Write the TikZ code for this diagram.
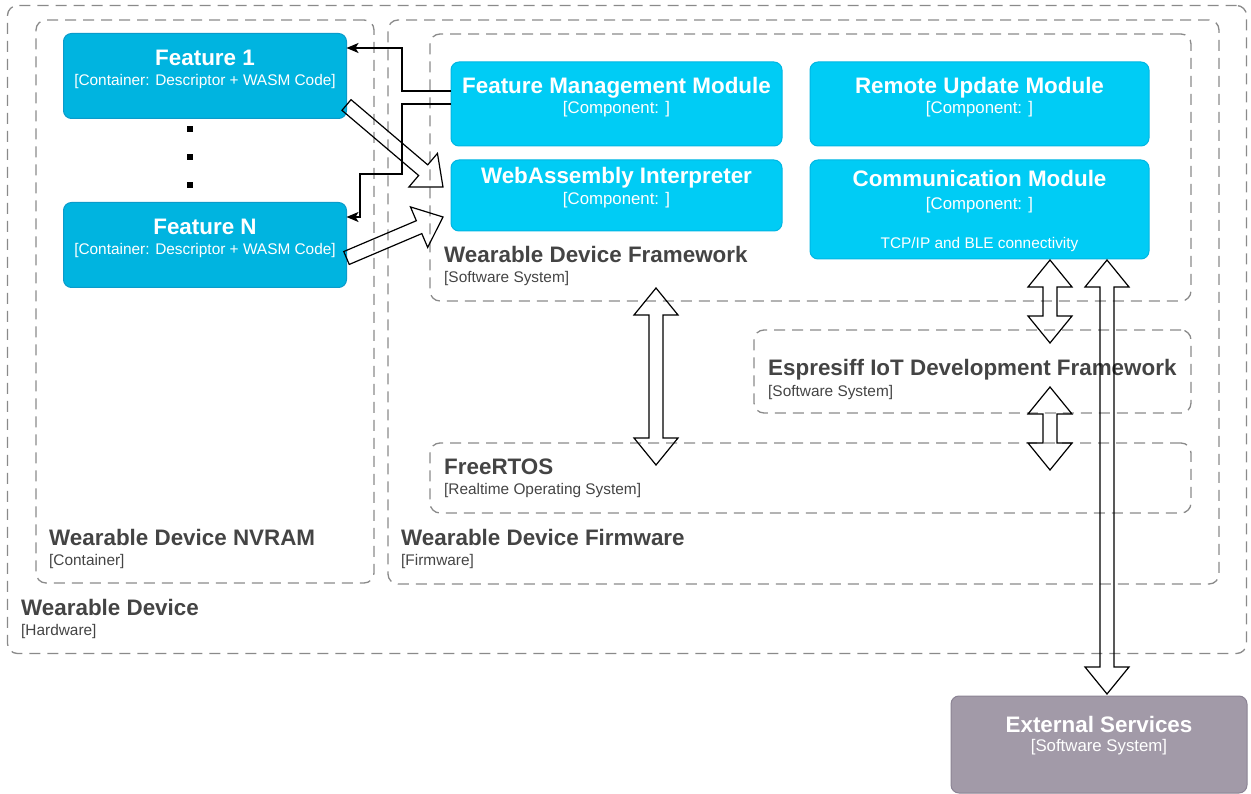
\documentclass[tikz,border=0pt]{standalone}
\usepackage{fontspec}
\setmainfont{Liberation Sans}
\usetikzlibrary{calc,arrows.meta}

\definecolor{featfill}{HTML}{00B4E0}
\definecolor{featline}{HTML}{0A9BCB}
\definecolor{compfill}{HTML}{00CCF5}
\definecolor{compline}{HTML}{00B6E3}
\definecolor{extfill}{HTML}{A29AA8}
\definecolor{extline}{HTML}{8B8394}
\definecolor{bnd}{HTML}{8A8A8A}
\definecolor{bndtext}{HTML}{444444}

\newcommand{\ttlfont}{\fontsize{22.4}{26}\selectfont\bfseries}
\newcommand{\techfont}{\fontsize{16.8}{20}\selectfont}
\newcommand{\smallfont}{\fontsize{15.4}{18}\selectfont}

% hollow block arrow from tail #1 to tip #2
\newcommand{\flexsingle}[2]{%
  \coordinate (hb) at ($(#2)!26pt!(#1)$);
  \draw[flexline] ($(#1)!7pt!90:(#2)$) -- ($(hb)!7pt!90:(#2)$) -- ($(hb)!22pt!90:(#2)$)
    -- (#2) -- ($(hb)!22pt!-90:(#2)$) -- ($(hb)!7pt!-90:(#2)$) -- ($(#1)!7pt!-90:(#2)$) -- cycle;}
% hollow block arrow with heads at both tips #1 and #2
\newcommand{\flexdouble}[2]{%
  \coordinate (ha) at ($(#1)!27pt!(#2)$);
  \coordinate (hb) at ($(#2)!27pt!(#1)$);
  \draw[flexline] (#1) -- ($(ha)!22pt!90:(#2)$) -- ($(ha)!7pt!90:(#2)$) -- ($(hb)!7pt!90:(#2)$)
    -- ($(hb)!22pt!90:(#2)$) -- (#2) -- ($(hb)!22pt!-90:(#2)$) -- ($(hb)!7pt!-90:(#2)$)
    -- ($(ha)!7pt!-90:(#2)$) -- ($(ha)!22pt!-90:(#2)$) -- cycle;}

\tikzset{
  bound/.style={draw=bnd, dash pattern=on 11pt off 7pt, line width=1.3pt, rounded corners=10pt,
    anchor=north west, inner sep=0pt, outer sep=0pt},
  box/.style={rounded corners=8pt, line width=1pt, anchor=north west, inner sep=0pt, outer sep=0pt},
  feat/.style={box, draw=featline, fill=featfill, minimum width=283pt, minimum height=85pt},
  comp/.style={box, draw=compline, fill=compfill},
  ext/.style={box, draw=extline, fill=extfill},
  ttl/.style={font=\ttlfont, text=white, inner sep=0pt, anchor=base},
  tech/.style={font=\techfont, text=white, inner sep=0pt, anchor=base},
  tech small/.style={font=\smallfont, text=white, inner sep=0pt, anchor=base},
  bttl/.style={font=\ttlfont, text=bndtext, inner sep=0pt, anchor=base west},
  bsub/.style={font=\smallfont, text=bndtext, inner sep=0pt, anchor=base west},
  conn/.style={draw=black, line width=1.3pt, -{Stealth[length=12pt, width=10pt, inset=3pt]}},
  flexline/.style={draw=black, line width=1.2pt, line join=miter},
  dotsq/.style={fill=black, minimum size=6pt, inner sep=0pt},
}

\begin{document}
\begin{tikzpicture}[x=1pt, y=-1pt]
\useasboundingbox (0,0) rectangle (1251,794);

% boundaries
\node[bound, minimum width=1239pt, minimum height=648pt] (hw) at (7.5,5.5) {};
\node[bound, minimum width=338pt, minimum height=563pt] (nvram) at (36,20) {};
\node[bound, minimum width=831pt, minimum height=564pt] (fw) at (388,20) {};
\node[bound, minimum width=761pt, minimum height=267pt] (wdf) at (430,34) {};
\node[bound, minimum width=437pt, minimum height=83pt] (idf) at (754,330) {};
\node[bound, minimum width=761pt, minimum height=70pt] (rtos) at (430,443) {};

\node[bttl] (hwt) at (21,615) {Wearable Device};
\node[bsub] (hws) at (21,635) {[Hardware]};
\node[bttl] (nvramt) at (49,545) {Wearable Device NVRAM};
\node[bsub] (nvrams) at (49,565) {[Container]};
\node[bttl] (fwt) at (401,545) {Wearable Device Firmware};
\node[bsub] (fws) at (401,565) {[Firmware]};
\node[bttl] (wdft) at (444,263) {Wearable Device Framework};
\node[bsub] (wdfs) at (444,283) {[Software System]};
\node[bttl] (idft) at (768,376) {Espresiff IoT Development Framework};
\node[bsub] (idfs) at (768,396) {[Software System]};
\node[bttl] (rtost) at (444,474) {FreeRTOS};
\node[bsub] (rtoss) at (444,494) {[Realtime Operating System]};

% feature containers
\node[feat] (f1) at (63.5,33.5) {};
\node[ttl] (f1t) at ($(f1.north)+(0,32)$) {Feature 1};
\node[tech small] (f1s) at ($(f1.north)+(0,52.5)$) {[Container: Descriptor + WASM Code]};
\node[feat] (fn) at (63.5,202.5) {};
\node[ttl] (fnt) at ($(fn.north)+(0,32)$) {Feature N};
\node[tech small] (fns) at ($(fn.north)+(0,52.5)$) {[Container: Descriptor + WASM Code]};

\node[dotsq] (dot1) at (190,129) {};
\node[dotsq] (dot2) at (190,157) {};
\node[dotsq] (dot3) at (190,185) {};

% framework components
\node[comp, minimum width=331pt, minimum height=84pt] (fmm) at (451,62) {};
\node[ttl] (fmmt) at ($(fmm.north)+(0,32)$) {Feature Management Module};
\node[tech] (fmms) at ($(fmm.north)+(0,52)$) {[Component: ]};
\node[comp, minimum width=331pt, minimum height=71pt] (wasm) at (451,160) {};
\node[ttl] (wasmt) at ($(wasm.north)+(0,24)$) {WebAssembly Interpreter};
\node[tech] (wasms) at ($(wasm.north)+(0,45)$) {[Component: ]};
\node[comp, minimum width=339pt, minimum height=84pt] (rum) at (810,62) {};
\node[ttl] (rumt) at ($(rum.north)+(0,32)$) {Remote Update Module};
\node[tech] (rums) at ($(rum.north)+(0,52)$) {[Component: ]};
\node[comp, minimum width=339pt, minimum height=99pt] (comm) at (810,160) {};
\node[ttl] (commt) at ($(comm.north)+(0,27)$) {Communication Module};
\node[tech] (comms) at ($(comm.north)+(0,50)$) {[Component: ]};
\node[tech small] (commd) at ($(comm.north)+(0,89)$) {TCP/IP and BLE connectivity};

% external system
\node[ext, minimum width=296pt, minimum height=97pt] (ext) at (951,696) {};
\node[ttl] (extt) at ($(ext.north)+(0,36)$) {External Services};
\node[tech] (exts) at ($(ext.north)+(0,55)$) {[Software System]};

% management module loads the features
\draw[conn] ($(fmm.west)+(0,-13)$) -| ($(f1.north east)+(55.5,14.5)$) -- ($(f1.north east)+(0,14.5)$);
\draw[conn] (fmm.west) -| ($(fn.north east)+(55.5,-28.5)$) -| ($(fn.north east)+(13.5,14.5)$) -- ($(fn.north east)+(0,14.5)$);

% features executed by the interpreter
\coordinate (fa1) at ($(f1.south east)+(0,-13.5)$);
\coordinate (fa2) at ($(wasm.north west)+(-8,27)$);
\coordinate (fb1) at ($(fn.south east)+(0,-29.5)$);
\coordinate (fb2) at ($(wasm.north west)+(-8,57)$);
\flexsingle{fa1}{fa2}
\flexsingle{fb1}{fb2}

% layer interfaces
\coordinate (d1a) at ($(wdf.south west)+(226,-13)$);
\coordinate (d1b) at ($(rtos.north west)+(226,22)$);
\coordinate (d2a) at ($(comm.south west)+(240,1)$);
\coordinate (d2b) at ($(idf.north west)+(296,13)$);
\coordinate (d3a) at ($(idf.south west)+(296,-26)$);
\coordinate (d3b) at ($(rtos.north west)+(620,27)$);
\coordinate (d4a) at ($(comm.south west)+(297,1)$);
\coordinate (d4b) at ($(ext.north west)+(156,-2)$);
\flexdouble{d1a}{d1b}
\flexdouble{d2a}{d2b}
\flexdouble{d3a}{d3b}
\flexdouble{d4a}{d4b}
\end{tikzpicture}
\end{document}
